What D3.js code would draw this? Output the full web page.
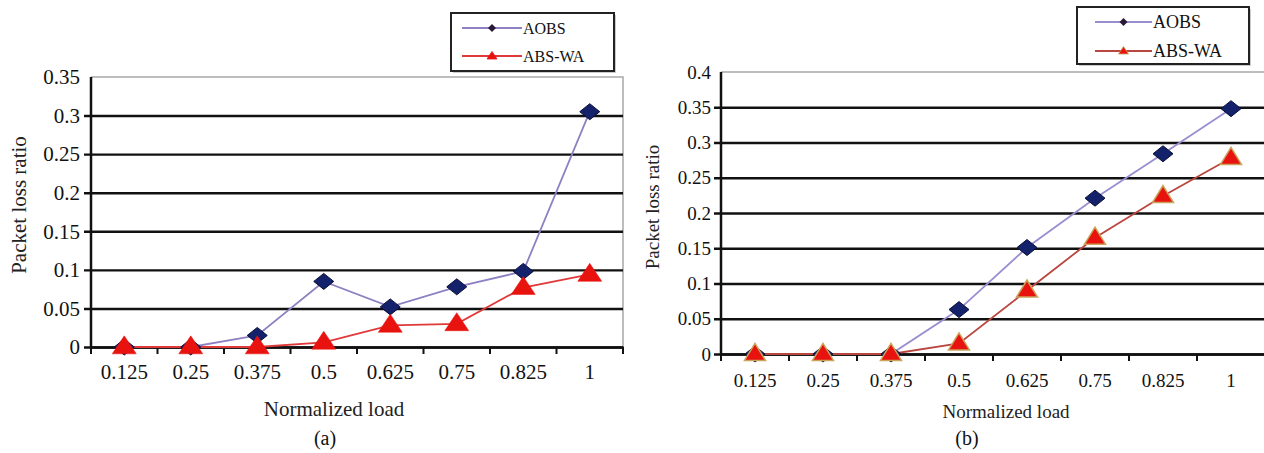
<!DOCTYPE html>
<html><head><meta charset="utf-8">
<script src="https://cdn.jsdelivr.net/npm/d3@7"></script>
<style>html,body{margin:0;padding:0;background:#fff;}svg{display:block;}</style>
</head><body>
<svg id="chart" width="1264" height="453"></svg>
<script>
const categories = ["0.125","0.25","0.375","0.5","0.625","0.75","0.825","1"];
const seriesNames = ["AOBS","ABS-WA"];
const aobsA  = [0, 0, 0.015, 0.085, 0.052, 0.078, 0.098, 0.305];
const abswaA = [0, 0, 0, 0.006, 0.028, 0.030, 0.077, 0.094];
const aobsB  = [0, 0, 0, 0.063, 0.151, 0.221, 0.284, 0.348];
const abswaB = [0, 0, 0, 0.015, 0.090, 0.165, 0.224, 0.278];
const yTicksA = [0, 0.05, 0.1, 0.15, 0.2, 0.25, 0.3, 0.35];
const yTicksB = [0, 0.05, 0.1, 0.15, 0.2, 0.25, 0.3, 0.35, 0.4];
const xTitle = "Normalized load";
const yTitle = "Packet loss ratio";

const svg = d3.select("#chart");
const FONT = "'Liberation Serif','Times New Roman',serif";

function drawPanel(o) {
  const g = svg.append("g");
  const x = d3.scaleBand().domain(categories).range([o.left, o.right]);
  const y = d3.scaleLinear().domain([0, o.yMax]).range([o.bottom, o.top]);

  g.append("path")
    .attr("d", `M${o.left},${y(o.yMax)}H${o.right}V${o.bottom}`)
    .attr("fill", "none").attr("stroke", "#a8a8a8").attr("stroke-width", 1.5);

  const yAxis = d3.axisLeft(y).tickValues(o.yTicks)
    .tickSize(-(o.right - o.left)).tickFormat(d => String(+d.toFixed(2))).tickPadding(10);
  const ya = g.append("g").attr("transform", `translate(${o.left},0)`).call(yAxis);
  ya.select(".domain").remove();
  ya.selectAll(".tick line")
    .attr("x1", -7)
    .attr("stroke", d => d === o.yMax ? "none" : "#111").attr("stroke-width", 2.4);
  ya.selectAll(".tick text").attr("font-family", FONT).attr("font-size", o.tickFont)
    .attr("fill", "#111").attr("x", o.yLabelX - o.left).attr("dy", "0.32em");

  g.append("line").attr("x1", o.left).attr("x2", o.left)
    .attr("y1", y(o.yMax)).attr("y2", o.bottom + 1)
    .attr("stroke", "#111").attr("stroke-width", 2.5);

  const xa = g.append("g").attr("transform", `translate(0,${o.bottom})`)
    .call(d3.axisBottom(x).tickSize(0).tickPadding(0));
  xa.select(".domain").attr("stroke", "#111").attr("stroke-width", 2.5);
  xa.selectAll(".tick text").attr("font-family", FONT).attr("font-size", o.tickFont)
    .attr("fill", "#111").attr("y", o.xLabelDy).attr("dy", 0);
  const bounds = categories.map(c => x(c)).concat([o.right]);
  g.append("g").selectAll("line").data(bounds).join("line")
    .attr("x1", d => d).attr("x2", d => d)
    .attr("y1", o.bottom).attr("y2", o.bottom + 7)
    .attr("stroke", "#111").attr("stroke-width", 2);

  const cx = c => x(c) + x.bandwidth() / 2;
  const line = d3.line().x((d, i) => cx(categories[i])).y(d => y(d));

  g.append("path").datum(o.aobs).attr("d", line).attr("fill", "none")
    .attr("stroke", o.aobsLine).attr("stroke-width", 1.8);
  g.append("path").datum(o.absw).attr("d", line).attr("fill", "none")
    .attr("stroke", o.abswLine).attr("stroke-width", 1.8);

  const dw = o.diamondW, dh = o.diamondH;
  const diamond = `M0,${-dh}L${dw},0L0,${dh}L${-dw},0Z`;
  const tw = o.triW, th = o.triH;
  const tri = `M0,${-th*0.62}L${tw/2},${th*0.38}L${-tw/2},${th*0.38}Z`;

  g.append("g").selectAll("path").data(o.aobs).join("path")
    .attr("d", diamond)
    .attr("transform", (d, i) => `translate(${cx(categories[i])},${y(d)})`)
    .attr("fill", "#14216b").attr("stroke", "#0a0f35").attr("stroke-width", 1);
  g.append("g").selectAll("path").data(o.absw).join("path")
    .attr("d", tri)
    .attr("transform", (d, i) => `translate(${cx(categories[i])},${y(d)})`)
    .attr("fill", "#e8120f").attr("stroke", o.triStroke).attr("stroke-width", o.triStrokeW);

  g.append("text").text(xTitle).attr("x", o.xTitleX).attr("y", o.xTitleY)
    .attr("text-anchor", "middle").attr("font-family", FONT).attr("font-size", o.titleFont).attr("fill", "#222");
  g.append("text").text(yTitle)
    .attr("transform", `translate(${o.yTitleX},${o.yTitleY}) rotate(-90)`)
    .attr("text-anchor", "middle").attr("dy", "0.35em")
    .attr("font-family", FONT).attr("font-size", o.titleFont).attr("fill", "#222");
  g.append("text").text(o.caption).attr("x", o.capX).attr("y", o.capY)
    .attr("text-anchor", "middle").attr("font-family", FONT).attr("font-size", 20).attr("fill", "#111");

  const L = o.legend;
  g.append("rect").attr("x", L.x + 2).attr("y", L.y + 2).attr("width", L.w).attr("height", L.h)
    .attr("fill", "#ccc");
  g.append("rect").attr("x", L.x).attr("y", L.y).attr("width", L.w).attr("height", L.h)
    .attr("fill", "#fff").attr("stroke", "#222").attr("stroke-width", 2);
  const items = [
    {name: seriesNames[0], y: L.y1, color: o.aobsLine, marker: `M0,-4L4,0L0,4L-4,0Z`, fill: "#2a1838", stroke: "none"},
    {name: seriesNames[1], y: L.y2, color: o.abswLine, marker: `M0,-4.5L5,3L-5,3Z`, fill: "#e8120f", stroke: o.triStroke}
  ];
  items.forEach(it => {
    g.append("line").attr("x1", L.lx1).attr("x2", L.lx2).attr("y1", it.y).attr("y2", it.y)
      .attr("stroke", it.color).attr("stroke-width", 1.8);
    g.append("path").attr("d", it.marker)
      .attr("transform", `translate(${(L.lx1 + L.lx2) / 2},${it.y})`)
      .attr("fill", it.fill).attr("stroke", it.stroke).attr("stroke-width", 0.8);
    g.append("text").text(it.name).attr("x", L.lx2 + 1).attr("y", it.y).attr("dy", "0.35em")
      .attr("font-family", FONT).attr("font-size", L.font).attr("fill", "#111");
  });
}

drawPanel({
  left: 91, right: 623, top: 77, bottom: 347, yMax: 0.35, yTicks: yTicksA,
  aobs: aobsA, absw: abswaA,
  aobsLine: "#8e80c2", abswLine: "#e0393a", triStroke: "#e8120f", triStrokeW: 0.5,
  tickFont: 21, titleFont: 21, yLabelX: 80, xLabelDy: 32,
  diamondW: 10, diamondH: 8, triW: 24, triH: 18,
  xTitleX: 334, xTitleY: 416, yTitleX: 19, yTitleY: 205,
  caption: "(a)", capX: 325, capY: 445,
  legend: {x: 451, y: 13, w: 163, h: 58, y1: 28, y2: 56, lx1: 462, lx2: 522, font: 16}
});

drawPanel({
  left: 721, right: 1265, top: 72, bottom: 354, yMax: 0.4, yTicks: yTicksB,
  aobs: aobsB, absw: abswaB,
  aobsLine: "#9a8ed0", abswLine: "#b9463f", triStroke: "#c9a45a", triStrokeW: 1.5,
  tickFont: 19, titleFont: 19, yLabelX: 711, xLabelDy: 33,
  diamondW: 10, diamondH: 8, triW: 21, triH: 17,
  xTitleX: 1006, xTitleY: 418, yTitleX: 652, yTitleY: 207,
  caption: "(b)", capX: 967, capY: 445,
  legend: {x: 1077, y: 7, w: 172, h: 57, y1: 22, y2: 51, lx1: 1095, lx2: 1152, font: 18}
});
</script>
</body></html>
